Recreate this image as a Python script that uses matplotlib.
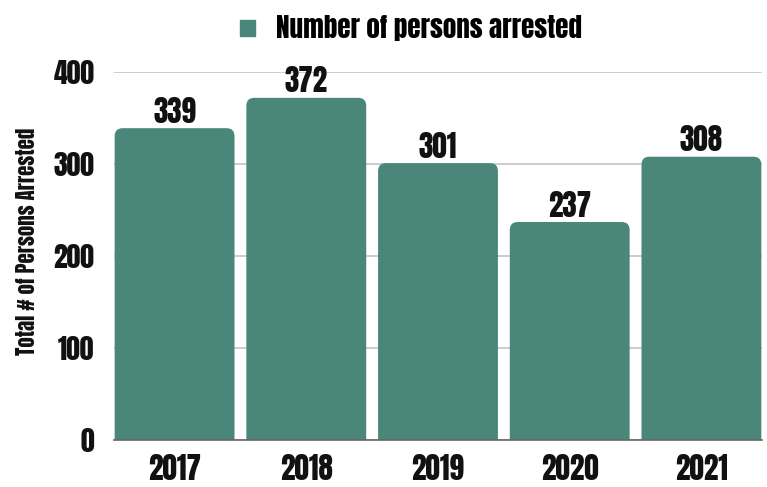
import matplotlib
matplotlib.use("Agg")
import matplotlib.pyplot as plt
from matplotlib.patches import FancyBboxPatch, Patch

years = ["2017", "2018", "2019", "2020", "2021"]
arrests = [339, 372, 301, 237, 308]

plt.rcParams['font.family'] = ['Anton', 'DejaVu Sans']

teal = '#4a877a'
ink = '#111111'

fig = plt.figure(figsize=(7.67, 4.87), dpi=100)
ax = fig.add_axes([0.1486, 0.0965, 0.8449, 0.7555])

x = list(range(len(years)))
width = 0.91

# rounded boxes start below zero so the axes clip off the lower corners
for xi, v in zip(x, arrests):
    box = FancyBboxPatch((xi - width / 2, -30), width, v + 30,
                         boxstyle="round,pad=0,rounding_size=0.06",
                         mutation_aspect=145, facecolor=teal,
                         edgecolor='none', zorder=2)
    ax.add_patch(box)
    ax.annotate(str(v), (xi, v), xytext=(0, 1), textcoords='offset points',
                ha='center', va='bottom', fontsize=21, color=ink, zorder=3)

ax.set_xlim(-0.46, 4.46)
ax.set_ylim(0, 400)
ax.set_yticks([0, 100, 200, 300, 400])
ax.set_xticks(x)
ax.set_xticklabels(years, fontsize=21)
ax.tick_params(axis='both', length=0, colors=ink)
ax.tick_params(axis='y', labelsize=20, pad=14)
ax.tick_params(axis='x', pad=10)
ax.yaxis.grid(True, color='#c4c4c4', linewidth=1.2, zorder=0)
ax.set_axisbelow(True)
for s in ['top', 'right', 'left']:
    ax.spines[s].set_visible(False)
ax.spines['bottom'].set_color('#666666')
ax.spines['bottom'].set_linewidth(1.2)
ax.spines['bottom'].set_zorder(3)

ax.set_ylabel("Total # of Persons Arrested", fontsize=15, color=ink)
ax.yaxis.set_label_coords(-0.117, 0.54)

fig.legend(handles=[Patch(color=teal, label="Number of persons arrested")],
           loc='upper center', bbox_to_anchor=(0.536, 1.02), frameon=False,
           prop={'size': 19.5}, handlelength=0.55, handleheight=0.55,
           handletextpad=0.8)

fig.savefig("out.png", dpi=100)
